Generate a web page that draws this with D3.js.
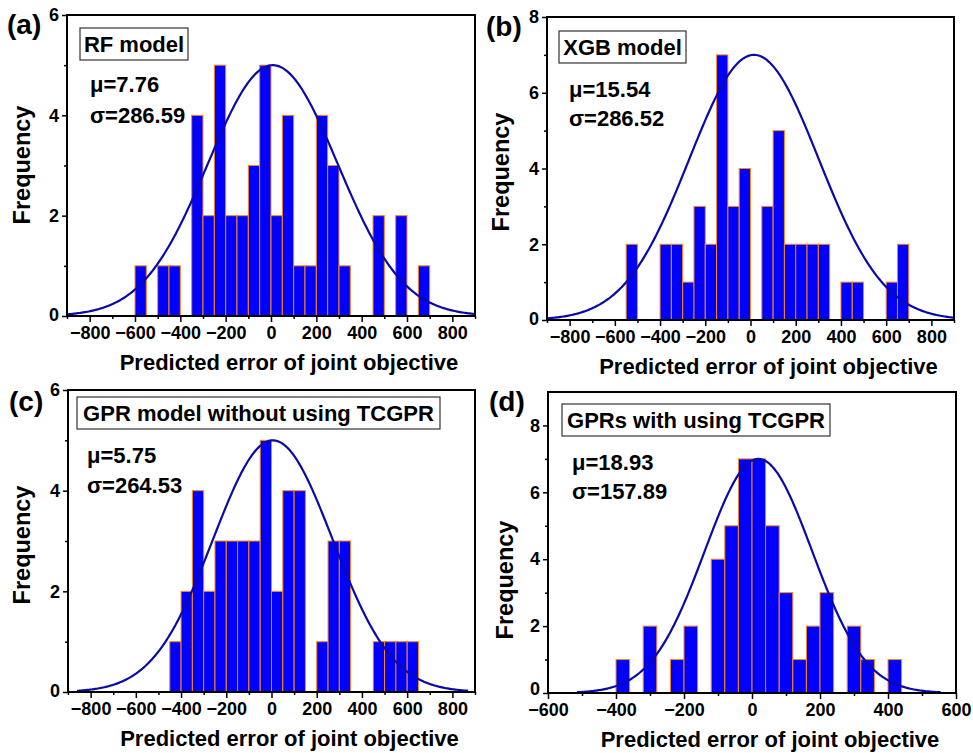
<!DOCTYPE html>
<html>
<head>
<meta charset="utf-8">
<script src="https://cdn.jsdelivr.net/npm/d3@7"></script>
<style>
  html, body { margin: 0; padding: 0; background: #fff; }
  svg text { font-family: "Liberation Sans", Arial, Helvetica, sans-serif; font-weight: bold; fill: #000; }
</style>
</head>
<body>
<svg id="chart" width="973" height="753"></svg>
<script>
// ---- data ----------------------------------------------------------------
// Histogram counts per bin, starting at the given left edge with a fixed width
const rfBinStart = -600, rfBinWidth = 50;
const rfCounts = [1, 0, 1, 1, 0, 4, 2, 5, 2, 2, 3, 5, 2, 4, 1, 1, 4, 3, 1, 0, 0, 2, 0, 2, 0, 1];

const xgbBinStart = -550, xgbBinWidth = 50;
const xgbCounts = [2, 0, 0, 2, 2, 1, 3, 2, 7, 3, 4, 0, 3, 5, 2, 2, 2, 2, 0, 1, 1, 0, 0, 1, 2];

const gprBinStart = -450, gprBinWidth = 50;
const gprCounts = [1, 2, 4, 2, 3, 3, 3, 3, 5, 2, 4, 4, 0, 1, 3, 3, 0, 0, 1, 1, 1, 1];

const tcgprBinStart = -400, tcgprBinWidth = 40;
const tcgprCounts = [1, 0, 2, 0, 1, 2, 0, 4, 5, 7, 7, 5, 3, 1, 2, 3, 0, 2, 1, 0, 1];

// Fitted normal curves: mean, sd, peak height, drawn range
const fitMu = [7.76, 15.54, 5.75, 18.93];
const fitSigma = [286.59, 286.52, 264.53, 157.89];
const fitPeak = [5, 7, 5, 7];
const fitRange = [[-900, 900], [-900, 900], [-860, 870], [-515, 555]];

// Labels
const panelTags = ["(a)", "(b)", "(c)", "(d)"];
const modelNames = ["RF model", "XGB model", "GPR model without using TCGPR", "GPRs with using TCGPR"];
const muLabels = ["\u03bc=7.76", "\u03bc=15.54", "\u03bc=5.75", "\u03bc=18.93"];
const sigmaLabels = ["\u03c3=286.59", "\u03c3=286.52", "\u03c3=264.53", "\u03c3=157.89"];
const xTitle = "Predicted error of joint objective";
const yTitle = "Frequency";

// Axis ticks
const xDomainWide = [-900, 900];
const xMajorWide = [-800, -600, -400, -200, 0, 200, 400, 600, 800];
const xMinorWide = [-900, -700, -500, -300, -100, 100, 300, 500, 700, 900];
const xDomainNarrow = [-600, 600];
const xMajorNarrow = [-600, -400, -200, 0, 200, 400, 600];
const xMinorNarrow = [-500, -300, -100, 100, 300, 500];
const yMajor6 = [0, 2, 4, 6], yMinor6 = [1, 3, 5];
const yMajor8 = [0, 2, 4, 6, 8], yMinor8 = [1, 3, 5, 7];

// ---- layout ----------------------------------------------------------------
const panels = [
  { counts: rfCounts, start: rfBinStart, width: rfBinWidth, xDom: xDomainWide, xMaj: xMajorWide, xMin: xMinorWide,
    yMax: 6, yMaj: yMajor6, yMin: yMinor6,
    frame: { l: 67, t: 15, r: 475, b: 316 }, tag: [7, 34], ytl: [22, 165],
    box: [80, 28, 108, 32], mu: [90, 92], sig: [90, 123] },
  { counts: xgbCounts, start: xgbBinStart, width: xgbBinWidth, xDom: xDomainWide, xMaj: xMajorWide, xMin: xMinorWide,
    yMax: 8, yMaj: yMajor8, yMin: yMinor8,
    frame: { l: 547, t: 17, r: 954, b: 320 }, tag: [486, 36], ytl: [501, 172],
    box: [559, 31, 127, 32], mu: [569, 97], sig: [569, 126] },
  { counts: gprCounts, start: gprBinStart, width: gprBinWidth, xDom: xDomainWide, xMaj: xMajorWide, xMin: xMinorWide,
    yMax: 6, yMaj: yMajor6, yMin: yMinor6,
    frame: { l: 68, t: 390, r: 475, b: 692 }, tag: [9, 411], ytl: [22, 545],
    box: [77, 397, 363, 32], mu: [87, 463], sig: [87, 493] },
  { counts: tcgprCounts, start: tcgprBinStart, width: tcgprBinWidth, xDom: xDomainNarrow, xMaj: xMajorNarrow, xMin: xMinorNarrow,
    yMax: 9, yMaj: yMajor8, yMin: yMinor8,
    frame: { l: 548, t: 392, r: 956, b: 693 }, tag: [489, 411], ytl: [505, 580],
    box: [562, 404, 268, 32], mu: [572, 470], sig: [572, 499] }
];

const svg = d3.select("#chart");

panels.forEach((p, i) => {
  const f = p.frame;
  const x = d3.scaleLinear().domain(p.xDom).range([f.l, f.r]);
  const y = d3.scaleLinear().domain([0, p.yMax]).range([f.b, f.t]);
  const g = svg.append("g");

  // bars
  const bins = p.counts.map((c, k) => ({ x0: p.start + k * p.width, x1: p.start + (k + 1) * p.width, c }))
    .filter(d => d.c > 0);
  g.selectAll("rect.bar").data(bins).join("rect")
    .attr("class", "bar")
    .attr("x", d => x(d.x0))
    .attr("width", d => x(d.x1) - x(d.x0))
    .attr("y", d => y(d.c))
    .attr("height", d => y(0) - y(d.c))
    .attr("fill", "#0000ff")
    .attr("stroke", "#ff8a10")
    .attr("stroke-width", 1);

  // fitted normal curve
  const [c0, c1] = fitRange[i];
  const pts = d3.range(c0, c1 + 0.1, (c1 - c0) / 300).map(v =>
    [v, fitPeak[i] * Math.exp(-0.5 * Math.pow((v - fitMu[i]) / fitSigma[i], 2))]);
  g.append("path")
    .attr("d", d3.line().x(d => x(d[0])).y(d => y(d[1]))(pts))
    .attr("fill", "none")
    .attr("stroke", "#0a0aa8")
    .attr("stroke-width", 2.2);

  // axes (outer ticks, bottom and left)
  const xAxis = g.append("g").attr("transform", `translate(0,${f.b})`)
    .call(d3.axisBottom(x).tickValues(p.xMaj).tickSize(6).tickPadding(4).tickFormat(d3.format("d")));
  g.append("g").attr("transform", `translate(0,${f.b})`)
    .call(d3.axisBottom(x).tickValues(p.xMin).tickSize(3).tickFormat(""))
    .call(a => a.select(".domain").remove());
  const yAxis = g.append("g").attr("transform", `translate(${f.l},0)`)
    .call(d3.axisLeft(y).tickValues(p.yMaj).tickSize(5).tickPadding(3).tickFormat(d3.format("d")));
  g.append("g").attr("transform", `translate(${f.l},0)`)
    .call(d3.axisLeft(y).tickValues(p.yMin).tickSize(3).tickFormat(""))
    .call(a => a.select(".domain").remove());

  [xAxis, yAxis].forEach(a => {
    a.select(".domain").remove();
    a.selectAll(".tick text").style("font-size", "18px").attr("fill", "#000");
  });
  xAxis.selectAll(".tick text").attr("dy", null).attr("y", 23);
  // when an x label sits right at the corner, lift the y zero label clear of it
  const cornerLabel = p.xMaj[0] === p.xDom[0];
  yAxis.selectAll(".tick text").filter(d => d === 0).attr("dy", cornerLabel ? "0.08em" : "0.25em");
  g.selectAll(".tick line").attr("stroke", "#000").attr("stroke-width", 1.5);

  // frame
  g.append("rect")
    .attr("x", f.l).attr("y", f.t)
    .attr("width", f.r - f.l).attr("height", f.b - f.t)
    .attr("fill", "none").attr("stroke", "#000").attr("stroke-width", 2);

  // axis titles
  g.append("text")
    .attr("x", (f.l + f.r) / 2 + 18).attr("y", f.b + 54)
    .attr("text-anchor", "middle")
    .style("font-size", "22px")
    .text(xTitle);
  g.append("text")
    .attr("transform", `translate(${p.ytl[0]},${p.ytl[1]}) rotate(-90)`)
    .attr("text-anchor", "middle").attr("dy", "0.35em")
    .style("font-size", "23.5px")
    .text(yTitle);

  // panel tag
  g.append("text").attr("x", p.tag[0]).attr("y", p.tag[1])
    .style("font-size", "28px").text(panelTags[i]);

  // model name box
  g.append("rect")
    .attr("x", p.box[0]).attr("y", p.box[1]).attr("width", p.box[2]).attr("height", p.box[3])
    .attr("fill", "#fff").attr("stroke", "#333").attr("stroke-width", 1.2);
  g.append("text")
    .attr("x", p.box[0] + p.box[2] / 2).attr("y", p.box[1] + 24)
    .attr("text-anchor", "middle")
    .style("font-size", "22px")
    .text(modelNames[i]);

  // statistics
  g.append("text").attr("x", p.mu[0]).attr("y", p.mu[1]).style("font-size", "22px").text(muLabels[i]);
  g.append("text").attr("x", p.sig[0]).attr("y", p.sig[1]).style("font-size", "22px").text(sigmaLabels[i]);
});
</script>
</body>
</html>
